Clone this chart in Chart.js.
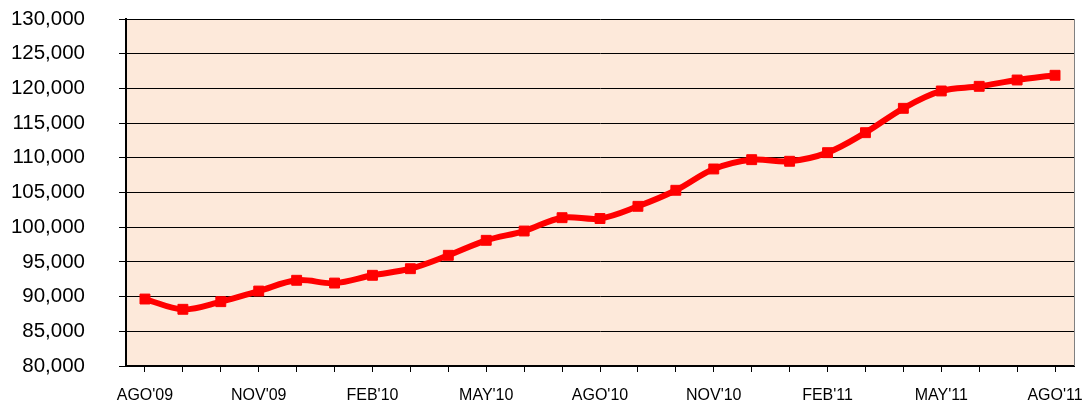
<!DOCTYPE html>
<html>
<head>
<meta charset="utf-8">
<script src="https://cdn.jsdelivr.net/npm/chart.js@4/dist/chart.umd.min.js"></script>
<style>
    html, body { margin: 0; padding: 0; background: #ffffff; }
    #wrap { width: 1085px; height: 405px; }
</style>
</head>
<body>
<div id="wrap"><canvas id="chart"></canvas></div>
<script>
// Monthly data, AGO'09 .. AGO'11
const months = ["AGO'09", "SEP'09", "OCT'09", "NOV'09", "DIC'09", "ENE'10", "FEB'10", "MAR'10", "ABR'10",
    "MAY'10", "JUN'10", "JUL'10", "AGO'10", "SEP'10", "OCT'10", "NOV'10", "DIC'10", "ENE'11", "FEB'11",
    "MAR'11", "ABR'11", "MAY'11", "JUN'11", "JUL'11", "AGO'11"];
const values = [89650, 88170, 89270, 90800, 92350, 91950, 93070, 94020, 95950, 98110, 99450, 101370,
    101250, 103010, 105320, 108390, 109730, 109500, 110740, 113620, 117130, 119630, 120300, 121210, 121890];
const yMin = 80000;
const yMax = 130000;
const yStep = 5000;
const labelEvery = 3;

// Fill plot area and draw the right border
const plotBackground = {
    id: 'plotBackground',
    beforeDraw(chart) {
        const { ctx, chartArea: a } = chart;
        ctx.save();
        ctx.fillStyle = '#fde9da';
        ctx.fillRect(a.left, a.top, a.right - a.left, a.bottom - a.top);
        ctx.restore();
    },
    afterDatasetsDraw(chart) {
        const { ctx, chartArea: a } = chart;
        ctx.save();
        ctx.strokeStyle = '#808080';
        ctx.lineWidth = 1;
        ctx.beginPath();
        ctx.moveTo(a.right + 0.5, a.top);
        ctx.lineTo(a.right + 0.5, a.bottom);
        ctx.stroke();
        ctx.restore();
    }
};

const ctx = document.getElementById('chart').getContext('2d');
new Chart(ctx, {
    type: 'line',
    data: {
        labels: months,
        datasets: [{
            data: values,
            borderColor: '#ff0000',
            backgroundColor: '#ff0000',
            borderWidth: 6,
            tension: 0.35,
            pointStyle: 'rect',
            pointRadius: 7,
            pointBorderWidth: 1,
            pointBorderColor: '#ff0000',
            pointBackgroundColor: '#ff0000',
            fill: false
        }]
    },
    options: {
        responsive: true,
        maintainAspectRatio: false,
        animation: false,
        layout: {
            autoPadding: false,
            padding: { left: 10, top: 19, right: 11, bottom: 0 }
        },
        plugins: {
            legend: { display: false },
            tooltip: { enabled: false }
        },
        scales: {
            x: {
                offset: true,
                grid: {
                    display: true,
                    drawOnChartArea: false,
                    offset: false,
                    color: '#000000',
                    tickLength: 6
                },
                border: { color: '#000000', width: 2 },
                ticks: {
                    autoSkip: false,
                    maxRotation: 0,
                    padding: 14,
                    color: '#000000',
                    font: { family: 'Liberation Sans, Arial, sans-serif', size: 16 },
                    callback: function(value, index) {
                        return index % labelEvery === 0 ? months[index] : '';
                    }
                },
                afterFit: function(scale) {
                    scale.height = 39;
                    scale.paddingLeft = 0;
                    scale.paddingRight = 0;
                }
            },
            y: {
                min: yMin,
                max: yMax,
                grid: {
                    color: '#000000',
                    lineWidth: 1,
                    tickLength: 7
                },
                border: { color: '#000000', width: 2 },
                ticks: {
                    stepSize: yStep,
                    padding: 34,
                    color: '#000000',
                    font: { family: 'Liberation Sans, Arial, sans-serif', size: 20.5 },
                    callback: function(value) {
                        return value.toLocaleString('en-US');
                    }
                },
                afterFit: function(scale) {
                    scale.width = 116;
                    scale.paddingTop = 0;
                    scale.paddingBottom = 0;
                }
            }
        }
    },
    plugins: [plotBackground]
});
</script>
</body>
</html>
